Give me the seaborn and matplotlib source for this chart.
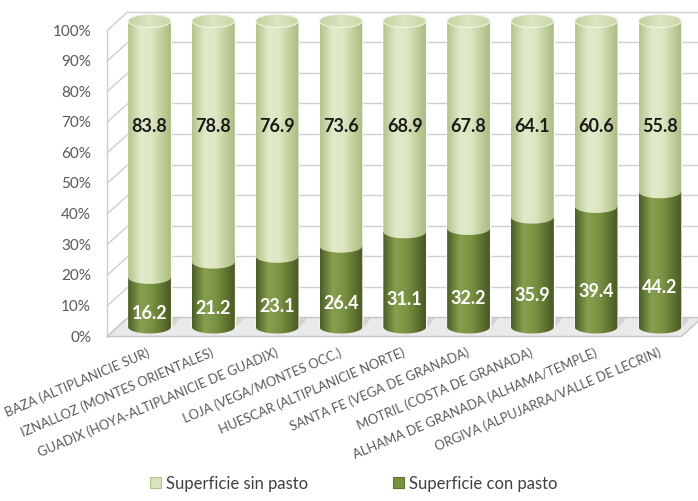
import numpy as np
import pandas as pd
import matplotlib
matplotlib.use("Agg")
import matplotlib.pyplot as plt
import seaborn as sns
from matplotlib.patches import PathPatch, Patch, Ellipse, Polygon
from matplotlib.path import Path
from matplotlib.colors import LinearSegmentedColormap
from matplotlib.transforms import ScaledTranslation

# ---------------------------------------------------------------- data
comarcas = [
    "BAZA (ALTIPLANICIE SUR)",
    "IZNALLOZ (MONTES ORIENTALES)",
    "GUADIX (HOYA-ALTIPLANICIE DE GUADIX)",
    "LOJA (VEGA/MONTES OCC.)",
    "HUESCAR (ALTIPLANICIE NORTE)",
    "SANTA FE (VEGA DE GRANADA)",
    "MOTRIL (COSTA DE GRANADA)",
    "ALHAMA DE GRANADA (ALHAMA/TEMPLE)",
    "ORGIVA (ALPUJARRA/VALLE DE LECRIN)",
]
con_pasto = [16.2, 21.2, 23.1, 26.4, 31.1, 32.2, 35.9, 39.4, 44.2]
sin_pasto = [83.8, 78.8, 76.9, 73.6, 68.9, 67.8, 64.1, 60.6, 55.8]
y_ticks = [0, 10, 20, 30, 40, 50, 60, 70, 80, 90, 100]
y_tick_labels = [f"{t}%" for t in y_ticks]
series_names = ["Superficie sin pasto", "Superficie con pasto"]

# ---------------------------------------------------------------- style
DPI = 100
W_PX, H_PX = 698, 502
LIGHT = "#D7E4BD"
DARK = "#77933C"
GRID = "#CFCFCF"
TEXT = "#595959"

sns.set_theme(style="white")
plt.rcParams["font.family"] = ["Lato", "DejaVu Sans"]

fig = plt.figure(figsize=(W_PX / DPI, H_PX / DPI), dpi=DPI)
fig.patch.set_facecolor("white")

# plot plane (bar mid-depth): x -0.5..8.5 -> 117.6..691.8 px, y 0..100 -> 328..22 px
X0_PX, X1_PX = 117.6, 691.8
Y0_PX, Y100_PX = 328.0, 22.0
Y_LO, Y_HI = -10.0, 106.0          # axes range, leaves room for the cylinder ends
n = len(comarcas)
px_per_cat = (X1_PX - X0_PX) / n
px_per_unit = (Y0_PX - Y100_PX) / 100.0
ybot_px = Y0_PX - Y_LO * px_per_unit
ytop_px = Y0_PX - Y_HI * px_per_unit
ax = fig.add_axes([X0_PX / W_PX, (H_PX - ybot_px) / H_PX,
                   (X1_PX - X0_PX) / W_PX, (ybot_px - ytop_px) / H_PX])

# half depth of the 3-D box, in data units
DX = 10.5 / px_per_cat
DY = 9.5 / px_per_unit
# half height of the cylinder ellipses, in data units
EH = 6.5 / px_per_unit
BAR_W = 0.67

df = pd.DataFrame({"comarca": comarcas, "con": con_pasto, "sin": sin_pasto})
df["total"] = df["con"] + df["sin"]

# stacked bars: full height first, the "con pasto" part over it
sns.barplot(data=df, x="comarca", y="total", color=LIGHT, width=BAR_W,
            saturation=1, errorbar=None, ax=ax, zorder=3)
sns.barplot(data=df, x="comarca", y="con", color=DARK, width=BAR_W,
            saturation=1, errorbar=None, ax=ax, zorder=3)
bars_total = ax.patches[:n]
bars_con = ax.patches[n:2 * n]

# ---------------------------------------------------------------- 3-D box
# back wall grid
for t in y_ticks:
    ax.plot([-0.5 + DX, 8.5 + DX + 0.3], [t + DY, t + DY], color=GRID, lw=1.0,
            clip_on=False, zorder=1)
# left wall
for t in y_ticks:
    ax.plot([-0.5 - DX, -0.5 + DX], [t - DY, t + DY], color=GRID, lw=1.0,
            clip_on=False, zorder=1)
ax.plot([-0.5 - DX, -0.5 - DX], [-DY, 100 - DY], color=GRID, lw=1.0,
        clip_on=False, zorder=1)
# floor
floor = Polygon([(-0.5 - DX, -DY), (8.5 - DX, -DY), (8.5 + DX, DY), (-0.5 + DX, DY)],
                closed=True, facecolor="#EAEAEA", edgecolor="#C4C4C4", lw=1.0,
                clip_on=False, zorder=2)
ax.add_patch(floor)
# cast shadows on the floor
for b in bars_total:
    cx = b.get_x() + b.get_width() / 2
    sh = Polygon([(cx - 0.05, -DY * 0.3), (cx + 0.32, -DY * 0.3),
                  (cx + 0.47, DY * 0.9), (cx + 0.10, DY * 0.9)],
                 closed=True, facecolor="#D2D2D2", edgecolor="none",
                 clip_on=False, zorder=2)
    ax.add_patch(sh)

# ---------------------------------------------------------------- cylinders
cm_light = LinearSegmentedColormap.from_list(
    "light", [(0, "#B3C489"), (0.3, "#E2EACA"), (0.55, "#DDE7C2"), (1, "#AABB7E")])
cm_dark = LinearSegmentedColormap.from_list(
    "dark", [(0, "#4C5E25"), (0.3, "#86A04F"), (0.55, "#7A9343"), (1, "#485921")])
cm_top = LinearSegmentedColormap.from_list(
    "top", [(0, "#C3D19E"), (0.5, "#DCE6C4"), (1, "#C8D5A5")])
grad = np.linspace(0, 1, 256).reshape(1, -1)


def body_path(x0, w, y_lo, y_hi):
    """Cylinder side from y_lo (front elliptic arc) up to y_hi (straight edge)."""
    th = np.linspace(np.pi, 2 * np.pi, 80)
    ax_ = x0 + w / 2 + (w / 2) * np.cos(th)
    ay_ = y_lo + EH * np.sin(th)
    verts = [(x0, y_hi)] + list(zip(ax_, ay_)) + [(x0 + w, y_hi), (x0, y_hi)]
    return Path(verts, closed=True)


def shade(path_or_patch, x0, w, y_lo, y_hi, cmap, z):
    if isinstance(path_or_patch, Path):
        clip = PathPatch(path_or_patch, transform=ax.transData)
    else:
        clip = path_or_patch
    im = ax.imshow(grad, extent=[x0, x0 + w, y_lo, y_hi], aspect="auto",
                   cmap=cmap, interpolation="bilinear", zorder=z)
    im.set_clip_path(clip)
    return im


for bt, bc in zip(bars_total, bars_con):
    x0, w = bt.get_x(), bt.get_width()
    v = bc.get_height()
    top = bt.get_height()
    shade(body_path(x0, w, 0, v), x0, w, -EH - 1, v + 1, cm_dark, 4)
    shade(body_path(x0, w, v, top), x0, w, v - EH - 1, top + 1, cm_light, 5)
    cap = Ellipse((x0 + w / 2, top), w, 2 * EH, transform=ax.transData)
    shade(cap, x0, w, top - EH - 1, top + EH + 1, cm_top, 6)
    rim = Ellipse((x0 + w / 2, top), w, 2 * EH, facecolor="none",
                  edgecolor="#EEF3E0", lw=0.8, zorder=6.5)
    ax.add_patch(rim)

# ---------------------------------------------------------------- labels
for i, (bt, bc) in enumerate(zip(bars_total, bars_con)):
    cx = bt.get_x() + bt.get_width() / 2
    v = bc.get_height()
    ax.text(cx, 66, f"{sin_pasto[i]:.1f}", ha="center", va="center",
            fontsize=13, fontweight="bold", color="#1A1A1A", zorder=8)
    ax.text(cx, 0.3 * v, f"{v:.1f}", ha="center", va="center",
            fontsize=13, fontweight="bold", color="white", zorder=8)

# y tick labels on the front edge of the left wall
ytrans = ax.transData + ScaledTranslation(-16 / DPI, 0, fig.dpi_scale_trans)
for t, lbl in zip(y_ticks, y_tick_labels):
    ax.text(-0.5 - DX, t - DY, lbl, transform=ytrans, ha="right", va="center",
            fontsize=11, color=TEXT)

# category labels, rotated under the floor
xtrans = ax.transData + ScaledTranslation(0 / DPI, -24 / DPI, fig.dpi_scale_trans)
for bt, lbl in zip(bars_total, comarcas):
    cx = bt.get_x() + bt.get_width() / 2
    ax.text(cx, 0, lbl, transform=xtrans, ha="right", va="center",
            rotation=23, rotation_mode="anchor", fontsize=9.4, color=TEXT)

ax.set_xlim(-0.5, 8.5)
ax.set_ylim(Y_LO, Y_HI)
ax.set_xticks([])
ax.set_yticks([])
ax.set_xlabel("")
ax.set_ylabel("")
ax.patch.set_alpha(0)
for s in ax.spines.values():
    s.set_visible(False)

handles = [Patch(facecolor=LIGHT, edgecolor="#B5C48F", lw=0.8),
           Patch(facecolor=DARK, edgecolor="#5E7530", lw=0.8)]
fig.legend(handles, series_names, loc="center", bbox_to_anchor=(0.507, 0.036),
           ncol=2, frameon=False, fontsize=12, handlelength=0.65,
           handleheight=0.65, handletextpad=0.3, columnspacing=5.1,
           labelcolor="#404040")

fig.savefig("out.png", dpi=DPI)
